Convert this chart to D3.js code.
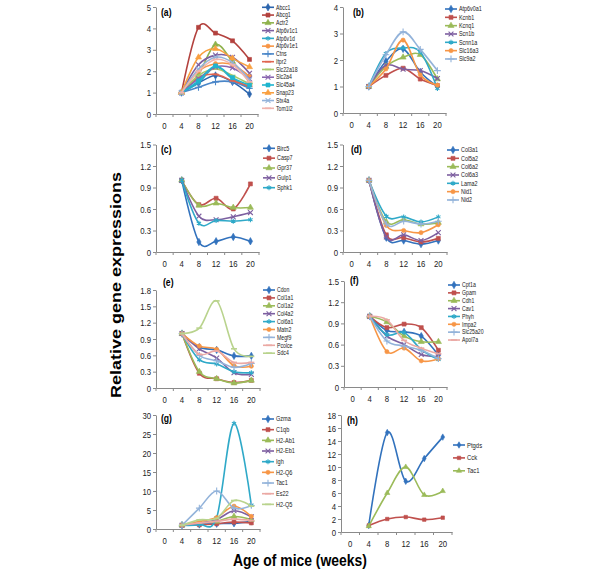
<!DOCTYPE html>
<html>
<head>
<meta charset="utf-8">
<script src="https://cdn.jsdelivr.net/npm/d3@7"></script>
<style>
  body { margin: 0; background: #fff; }
  svg { display: block; font-family: "Liberation Sans", Arial, sans-serif; }
</style>
</head>
<body>
<div id="chart"></div>
<script>
// weeks with data, and the category axis (0 has no data)
var weeks = [4, 8, 12, 16, 20];
var xCats = [0, 4, 8, 12, 16, 20];

// (a)
var aGenes = ["Abcc1", "Abcg1", "Actr2", "Atp6v1c1", "Atp6v1d", "Atp6v1e1", "Ctns", "Itpr2",
              "Slc22a18", "Slc2a4", "Slc45a4", "Snap23", "Stx4a", "Tom1l2"];
var aValues = [
    [1, 1.45, 1.8, 1.5, 0.93],
    [1, 4.05, 3.78, 3.42, 2.55],
    [1, 1.85, 3.25, 2.45, 1.5],
    [1, 2.3, 2.75, 2.65, 1.9],
    [1, 1.45, 2.2, 1.65, 1.25],
    [1, 2.0, 2.35, 2.3, 1.75],
    [1, 1.25, 1.5, 1.5, 1.2],
    [1, 1.7, 1.85, 1.55, 1.3],
    [1, 1.8, 2.1, 1.8, 1.4],
    [1, 1.65, 2.2, 2.15, 1.65],
    [1, 1.55, 2.25, 1.7, 1.35],
    [1, 2.65, 3.05, 2.6, 2.2],
    [1, 2.1, 2.65, 2.4, 1.6],
    [1, 2.0, 2.55, 2.3, 1.5]
];
var aTicks = [0, 1, 2, 3, 4, 5];

// (b)
var bGenes = ["Atp6v0a1", "Kcnb1", "Kcnq1", "Scn1b", "Scnn1a", "Slc16a3", "Slc9a2"];
var bValues = [
    [1, 1.95, 2.42, 1.55, 1.0],
    [1, 1.42, 1.69, 1.28, 1.04],
    [1, 1.75, 2.1, 2.2, 1.28],
    [1, 1.8, 1.65, 1.6, 1.3],
    [1, 2.25, 2.45, 2.3, 0.92],
    [1, 1.66, 2.75, 1.44, 1.05],
    [1, 2.2, 3.06, 2.4, 1.6]
];
var bTicks = [0, 1, 2, 3, 4];

// (c)
var cGenes = ["Birc5", "Casp7", "Gpr37", "Gulp1", "Sphk1"];
var cValues = [
    [1, 0.14, 0.15, 0.21, 0.15],
    [1, 0.66, 0.75, 0.6, 0.95],
    [1, 0.65, 0.68, 0.62, 0.62],
    [1, 0.5, 0.45, 0.49, 0.55],
    [1, 0.4, 0.44, 0.43, 0.45]
];
var cTicks = [0, 0.3, 0.6, 0.9, 1.2, 1.5];

// (d)
var dGenes = ["Col3a1", "Col5a2", "Col6a2", "Col6a3", "Lama2", "Nid1", "Nid2"];
var dValues = [
    [1, 0.2, 0.16, 0.11, 0.16],
    [1, 0.24, 0.2, 0.14, 0.19],
    [1, 0.42, 0.45, 0.39, 0.41],
    [1, 0.21, 0.24, 0.16, 0.27],
    [1, 0.5, 0.49, 0.42, 0.49],
    [1, 0.37, 0.3, 0.27, 0.38],
    [1, 0.39, 0.43, 0.39, 0.43]
];
var dTicks = [0, 0.3, 0.6, 0.9, 1.2, 1.5];

// (e)
var eGenes = ["Cdon", "Col1a1", "Col1a2", "Col4a2", "Col6a1", "Matn2", "Megf9", "Pcolce", "Sdc4"];
var eValues = [
    [1, 0.75, 0.7, 0.59, 0.59],
    [1, 0.27, 0.17, 0.1, 0.14],
    [1, 0.3, 0.17, 0.09, 0.14],
    [1, 0.72, 0.55, 0.28, 0.25],
    [1, 0.52, 0.44, 0.3, 0.28],
    [1, 0.77, 0.71, 0.41, 0.4],
    [1, 0.6, 0.5, 0.38, 0.45],
    [1, 0.62, 0.68, 0.47, 0.47],
    [1, 1.1, 1.6, 0.72, 0.58]
];
var eTicks = [0, 0.3, 0.6, 0.9, 1.2, 1.5, 1.8];

// (f)
var fGenes = ["Cpt1a", "Gpam", "Cdh1", "Cav1", "Phyh", "Impa2", "Slc25a20", "Apol7a"];
var fValues = [
    [1, 0.8, 0.78, 0.72, 0.45],
    [1, 0.84, 0.89, 0.84, 0.52],
    [1, 0.92, 0.72, 0.64, 0.64],
    [1, 0.72, 0.6, 0.46, 0.43],
    [1, 0.74, 0.77, 0.53, 0.39],
    [1, 0.5, 0.55, 0.37, 0.4],
    [1, 0.65, 0.58, 0.52, 0.4],
    [1, 0.95, 0.66, 0.55, 0.47]
];
var fTicks = [0, 0.3, 0.6, 0.9, 1.2, 1.5];

// (g)
var gGenes = ["Gzma", "C1qb", "H2-Ab1", "H2-Eb1", "Igh", "H2-Q6", "Tac1", "Es22", "H2-Q5"];
var gValues = [
    [1, 1.2, 1.4, 1.5, 2.0],
    [1, 1.1, 1.4, 1.8, 1.6],
    [1, 1.7, 2.0, 3.3, 2.5],
    [1, 1.5, 2.5, 4.8, 3.2],
    [1, 1.2, 3.0, 27.8, 6.3],
    [1, 2.0, 3.0, 6.0, 3.3],
    [1, 5.5, 10, 5.5, 6.2],
    [1, 1.6, 2.0, 2.6, 2.2],
    [1, 2.4, 2.8, 7.5, 6.0]
];
var gTicks = [0, 5, 10, 15, 20, 25, 30];

// (h)
var hGenes = ["Ptgds", "Cck", "Tac1"];
var hValues = [
    [1, 15.3, 7.8, 11.3, 14.6],
    [1, 2.0, 2.3, 1.9, 2.2],
    [0.9, 6.0, 10.0, 5.7, 6.3]
];
var hTicks = [0, 2, 4, 6, 8, 10, 12, 14, 16, 18];

// series styles (Excel-like)
var colors9 = ["#3272bd", "#c0504d", "#9bbb59", "#7d5fa0", "#2fa9c8", "#f79646", "#93b3da", "#eba9a4", "#b9d38d"];
var marks9 = ["diamond", "square", "triangle", "times", "star", "circle", "plus", "dash", "dash"];
var colorsA = ["#2c65ad", "#b3423e", "#8fb24c", "#7d5fa0", "#2fa9c8", "#f79646", "#4a86c8", "#e0654f",
               "#a7c86a", "#8a66b0", "#1fb5cf", "#f9a040", "#93b3da", "#f0b4ad"];
var marksA = ["diamond", "square", "triangle", "times", "star", "circle", "plus", "dash",
              "dash", "times", "square", "triangle", "times", "dash"];

var SX = 0.82; // text in the picture is horizontally condensed

var svg = d3.select("#chart").append("svg")
    .attr("width", 600)
    .attr("height", 573);

var panels = [
    {label: "(a)", genes: aGenes, values: aValues, ticks: aTicks, x0: 156, x1: 258, top: 7, bot: 114,
     colors: colorsA, marks: marksA, ms: 1, lab: [161, 16], leg: {x: 262, y: 7.3, dy: 7.77, fs: 6.3}},
    {label: "(b)", genes: bGenes, values: bValues, ticks: bTicks, x0: 343, x1: 446, top: 7, bot: 113,
     colors: colors9, marks: marks9, ms: 1, lab: [353, 16], leg: {x: 445, y: 9, dy: 8.33, fs: 6.6}},
    {label: "(c)", genes: cGenes, values: cValues, ticks: cTicks, x0: 156, x1: 259, top: 144.5, bot: 252,
     colors: colors9, marks: marks9, ms: 1, lab: [161, 153], leg: {x: 263, y: 148.3, dy: 9.85, fs: 6.6}},
    {label: "(d)", genes: dGenes, values: dValues, ticks: dTicks, x0: 343, x1: 447, top: 144.5, bot: 252,
     colors: colors9, marks: marks9, ms: 1, lab: [351, 153], leg: {x: 447, y: 150, dy: 8.33, fs: 6.6}},
    {label: "(e)", genes: eGenes, values: eValues, ticks: eTicks, x0: 156, x1: 260, top: 290, bot: 388,
     colors: colors9, marks: marks9, ms: 1, lab: [163, 286], leg: {x: 263, y: 290, dy: 7.9, fs: 6.3}},
    {label: "(f)", genes: fGenes, values: fValues, ticks: fTicks, x0: 344, x1: 447, top: 281, bot: 387,
     colors: colors9, marks: marks9, ms: 1, lab: [350, 284], leg: {x: 448, y: 285, dy: 7.86, fs: 6.3}},
    {label: "(g)", genes: gGenes, values: gValues, ticks: gTicks, x0: 156, x1: 260, top: 415, bot: 529,
     colors: colors9, marks: marks9, ms: 1, lab: [161, 422], leg: {x: 262, y: 419, dy: 10.67, fs: 6.8}},
    {label: "(h)", genes: hGenes, values: hValues, ticks: hTicks, x0: 341, x1: 452, top: 415, bot: 532,
     colors: colors9, marks: marks9, ms: 0.75, lab: [347, 424], leg: {x: 453, y: 445, dy: 12.9, fs: 7.2}}
];

function drawMark(g, type, color, cx, cy, k) {
    k = k || 1;
    if (type == "dash") {
        g.append("path").attr("d", "M" + (cx - 3) + "," + cy + "H" + (cx + 3))
            .attr("stroke", color).attr("stroke-width", 1.6);
        return;
    }
    var filled = {diamond: d3.symbolDiamond, square: d3.symbolSquare, triangle: d3.symbolTriangle, circle: d3.symbolCircle};
    var stroked = {times: d3.symbolTimes || d3.symbolCross, star: d3.symbolAsterisk || d3.symbolCross, plus: d3.symbolPlus || d3.symbolCross};
    if (filled[type]) {
        g.append("path")
            .attr("d", d3.symbol().type(filled[type]).size((type == "circle" ? 14 : 16) * k)())
            .attr("transform", "translate(" + cx + "," + cy + ")")
            .attr("fill", color).attr("stroke", color).attr("stroke-width", 0.6);
    } else {
        g.append("path")
            .attr("d", d3.symbol().type(stroked[type]).size(17 * k)())
            .attr("transform", "translate(" + cx + "," + cy + ")")
            .attr("fill", "none").attr("stroke", color).attr("stroke-width", 1.1);
    }
}

panels.forEach(function(p) {
    var g = svg.append("g");
    var yMax = p.ticks[p.ticks.length - 1];
    var y = d3.scaleLinear().domain([0, yMax]).range([p.bot, p.top]);
    var xb = d3.scaleBand().domain(xCats).range([p.x0, p.x1]);
    var bw = xb.bandwidth();

    // y axis
    var ya = g.append("g")
        .attr("transform", "translate(" + p.x0 + ",0)")
        .call(d3.axisLeft(y).tickValues(p.ticks).tickSize(3).tickSizeOuter(0).tickPadding(3).tickFormat(String));
    // x axis labels
    var xa = g.append("g")
        .attr("transform", "translate(0," + p.bot + ")")
        .call(d3.axisBottom(xb).tickSize(0).tickPadding(8));
    // x tick marks at band edges
    g.selectAll(".xt").data(xCats.concat(["end"])).enter().append("line")
        .attr("x1", function(d, i) { return p.x0 + i * bw; })
        .attr("x2", function(d, i) { return p.x0 + i * bw; })
        .attr("y1", p.bot).attr("y2", p.bot + 3)
        .attr("stroke", "#8a8a8a");

    [ya, xa].forEach(function(a) {
        a.select(".domain").attr("stroke", "#8a8a8a");
        a.selectAll(".tick line").attr("stroke", "#8a8a8a");
        a.selectAll("text").attr("fill", "#222").style("font-size", "9.5px")
            .attr("transform", "scale(" + SX + ",1)");
    });

    // series
    var line = d3.line()
        .x(function(d, i) { return xb(weeks[i]) + bw / 2; })
        .y(function(d) { return y(d); })
        .curve(d3.curveCardinal.tension(0));

    p.values.forEach(function(vals, k) {
        var c = p.colors[k];
        g.append("path")
            .attr("d", line(vals))
            .attr("fill", "none")
            .attr("stroke", c)
            .attr("stroke-width", 1.6);
        vals.forEach(function(v, i) {
            drawMark(g, p.marks[k], c, xb(weeks[i]) + bw / 2, y(v), p.ms);
        });
    });

    // panel label
    g.append("g").attr("transform", "translate(" + p.lab[0] + "," + p.lab[1] + ")")
        .append("text")
        .attr("transform", "scale(" + SX + ",1)")
        .style("font-size", "10.5px").style("font-weight", "bold")
        .text(p.label);

    // legend
    p.genes.forEach(function(name, k) {
        var ly = p.leg.y + k * p.leg.dy;
        var lg = g.append("g");
        lg.append("line")
            .attr("x1", p.leg.x).attr("x2", p.leg.x + 12)
            .attr("y1", ly).attr("y2", ly)
            .attr("stroke", p.colors[k]).attr("stroke-width", 1.6);
        drawMark(lg, p.marks[k], p.colors[k], p.leg.x + 6, ly, p.ms);
        lg.append("g").attr("transform", "translate(" + (p.leg.x + 14) + "," + ly + ")")
            .append("text")
            .attr("transform", "scale(" + SX + ",1)")
            .attr("dy", "0.35em")
            .style("font-size", p.leg.fs + "px")
            .attr("fill", "#222")
            .text(name);
    });
});

// axis titles
svg.append("g").attr("transform", "translate(300,566)")
    .append("text")
    .attr("transform", "scale(" + SX + ",1)")
    .attr("text-anchor", "middle")
    .style("font-size", "17px").style("font-weight", "bold")
    .text("Age of mice (weeks)");

svg.append("g").attr("transform", "translate(121,285) scale(" + SX + ",1) rotate(-90)")
    .append("text")
    .attr("text-anchor", "middle")
    .style("font-size", "18px").style("font-weight", "bold")
    .text("Relative gene expressions");
</script>
</body>
</html>
